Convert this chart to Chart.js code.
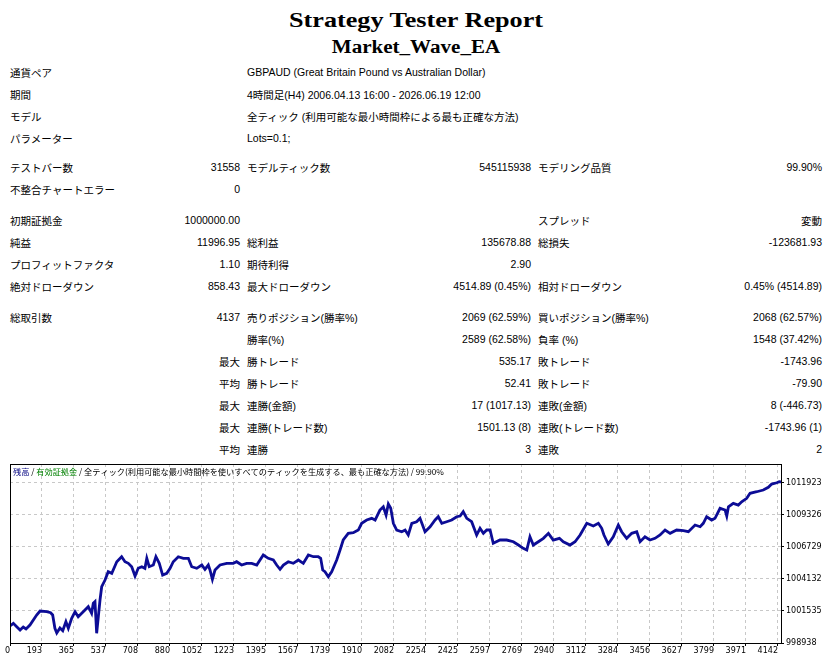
<!DOCTYPE html>
<html lang="ja">
<head>
<meta charset="utf-8">
<title>Strategy Tester Report</title>
<script src="https://cdn.jsdelivr.net/npm/chart.js@4.4.1/dist/chart.umd.min.js"></script>
<style>
    html, body { margin: 0; padding: 0; background: #ffffff; }
    body {
        width: 832px; height: 664px; position: relative; overflow: hidden;
        font-family: "Liberation Sans", "Noto Sans CJK JP", sans-serif;
        font-size: 10.5px; color: #000000;
    }
    .title {
        position: absolute; left: 0; width: 832px; text-align: center;
        font-family: "Liberation Serif", serif; font-weight: bold; white-space: nowrap;
    }
    #t1 { top: 9px; font-size: 22px; line-height: 22px; transform: scaleX(1.19); }
    #t2 { top: 38px; font-size: 18px; line-height: 18px; transform: scaleX(1.17); }
    table { position: absolute; left: 10px; top: 61px; border-collapse: collapse; table-layout: fixed; }
    td { padding: 0; height: 22px; white-space: nowrap; overflow: visible; vertical-align: middle; }
    td.r { text-align: right; }
    td.p { text-indent: 7px; }
    tr.s7 td { height: 7px; font-size: 0; line-height: 0; }
    tr.s9 td { height: 9px; font-size: 0; line-height: 0; }
    #chartBox { position: absolute; left: 0; top: 456px; width: 832px; height: 208px; }
</style>
</head>
<body>
<div class="title" id="t1">Strategy Tester Report</div>
<div class="title" id="t2">Market_Wave_EA</div>

<table>
    <colgroup>
        <col style="width:140px"><col style="width:90px"><col style="width:150px">
        <col style="width:141px"><col style="width:150px"><col style="width:141px">
    </colgroup>
    <tr><td>通貨ペア</td><td></td><td class="p" colspan="4">GBPAUD (Great Britain Pound vs Australian Dollar)</td></tr>
    <tr><td>期間</td><td></td><td class="p" colspan="4">4時間足(H4) 2006.04.13 16:00 - 2026.06.19 12:00</td></tr>
    <tr><td>モデル</td><td></td><td class="p" colspan="4">全ティック (利用可能な最小時間枠による最も正確な方法)</td></tr>
    <tr><td>パラメーター</td><td></td><td class="p" colspan="4">Lots=0.1;</td></tr>
    <tr class="s7"><td colspan="6"></td></tr>
    <tr><td>テストバー数</td><td class="r">31558</td><td class="p">モデルティック数</td><td class="r">545115938</td><td class="p">モデリング品質</td><td class="r">99.90%</td></tr>
    <tr><td>不整合チャートエラー</td><td class="r">0</td><td></td><td></td><td></td><td></td></tr>
    <tr class="s9"><td colspan="6"></td></tr>
    <tr><td>初期証拠金</td><td class="r">1000000.00</td><td></td><td></td><td class="p">スプレッド</td><td class="r">変動</td></tr>
    <tr><td>純益</td><td class="r">11996.95</td><td class="p">総利益</td><td class="r">135678.88</td><td class="p">総損失</td><td class="r">-123681.93</td></tr>
    <tr><td>プロフィットファクタ</td><td class="r">1.10</td><td class="p">期待利得</td><td class="r">2.90</td><td></td><td></td></tr>
    <tr><td>絶対ドローダウン</td><td class="r">858.43</td><td class="p">最大ドローダウン</td><td class="r">4514.89 (0.45%)</td><td class="p">相対ドローダウン</td><td class="r">0.45% (4514.89)</td></tr>
    <tr class="s9"><td colspan="6"></td></tr>
    <tr><td>総取引数</td><td class="r">4137</td><td class="p">売りポジション(勝率%)</td><td class="r">2069 (62.59%)</td><td class="p">買いポジション(勝率%)</td><td class="r">2068 (62.57%)</td></tr>
    <tr><td></td><td></td><td class="p">勝率(%)</td><td class="r">2589 (62.58%)</td><td class="p">負率 (%)</td><td class="r">1548 (37.42%)</td></tr>
    <tr><td></td><td class="r">最大</td><td class="p">勝トレード</td><td class="r">535.17</td><td class="p">敗トレード</td><td class="r">-1743.96</td></tr>
    <tr><td></td><td class="r">平均</td><td class="p">勝トレード</td><td class="r">52.41</td><td class="p">敗トレード</td><td class="r">-79.90</td></tr>
    <tr><td></td><td class="r">最大</td><td class="p">連勝(金額)</td><td class="r">17 (1017.13)</td><td class="p">連敗(金額)</td><td class="r">8 (-446.73)</td></tr>
    <tr><td></td><td class="r">最大</td><td class="p">連勝(トレード数)</td><td class="r">1501.13 (8)</td><td class="p">連敗(トレード数)</td><td class="r">-1743.96 (1)</td></tr>
    <tr><td></td><td class="r">平均</td><td class="p">連勝</td><td class="r">3</td><td class="p">連敗</td><td class="r">2</td></tr>
</table>

<div id="chartBox"><canvas id="balanceChart"></canvas></div>

<script>
// ================= data =================
var tradeNo = [
    0, 18, 36, 54, 71, 86, 107, 143, 161, 197,
    218, 229, 241, 251, 268, 283, 300, 313, 331, 349,
    366, 393, 420, 438, 447, 456, 465, 474, 483, 492,
    510, 527, 546, 573, 599, 617, 635, 653, 671, 688,
    707, 724, 734, 747, 769, 783, 801, 819, 841, 859,
    876, 903, 930, 957, 975, 1002, 1029, 1046, 1064, 1073,
    1086, 1100, 1127, 1163, 1198, 1216, 1243, 1270, 1297, 1324,
    1359, 1386, 1413, 1431, 1449, 1467, 1493, 1520, 1547, 1574,
    1601, 1628, 1654, 1667, 1678, 1690, 1708, 1726, 1753, 1771,
    1788, 1815, 1842, 1869, 1887, 1914, 1941, 1959, 1985, 2003,
    2018, 2030, 2043, 2057, 2075, 2102, 2120, 2137, 2156, 2182,
    2200, 2227, 2254, 2281, 2298, 2317, 2343, 2370, 2397, 2415,
    2432, 2451, 2477, 2504, 2522, 2540, 2558, 2576, 2593, 2629,
    2665, 2701, 2728, 2754, 2773, 2790, 2808, 2835, 2862, 2889,
    2915, 2948, 2969, 3005, 3032, 3059, 3095, 3130, 3157, 3175,
    3187, 3210, 3237, 3264, 3282, 3309, 3336, 3363, 3381, 3407,
    3434, 3461, 3488, 3515, 3542, 3577, 3613, 3640, 3676, 3703,
    3720, 3738, 3765, 3783, 3810, 3837, 3846, 3855, 3881, 3908,
    3926, 3953, 3971, 4007, 4042, 4069, 4087, 4114, 4128, 4137
];

var balance = [
    1000315, 1000534, 1000258, 999991, 1000234, 1000072, 1000396, 1001206, 1001530, 1001473,
    1001392, 1001206, 1000129, 999748, 1000153, 999934, 1000663, 1000129, 1000939, 1001473,
    1001068, 1001473, 1001878, 1001344, 1002154, 1002283, 999724, 1001068, 1002421, 1003498,
    1004041, 1004713, 1004584, 1005523, 1005928, 1005523, 1005394, 1005118, 1004365, 1004989,
    1005118, 1004989, 1005799, 1005118, 1005256, 1005928, 1005394, 1004446, 1004584, 1004989,
    1005523, 1005928, 1005799, 1005799, 1005118, 1004989, 1005256, 1004908, 1005256, 1004851,
    1004098, 1004851, 1005256, 1005394, 1005394, 1005523, 1005256, 1005394, 1005394, 1005256,
    1006066, 1005799, 1005661, 1005256, 1004908, 1005256, 1005523, 1005394, 1005661, 1005394,
    1006066, 1005928, 1005928, 1005799, 1004851, 1004713, 1004308, 1004713, 1005661, 1006471,
    1007281, 1007824, 1007872, 1008091, 1008634, 1008901, 1009039, 1008901, 1009711, 1009978,
    1009306, 1010197, 1009849, 1008634, 1008091, 1007953, 1008091, 1007686, 1008634, 1008763,
    1009039, 1007953, 1008358, 1008901, 1009168, 1008634, 1008763, 1008901, 1009168, 1009225,
    1009573, 1009039, 1008763, 1007686, 1008229, 1007824, 1008091, 1008091, 1007014, 1007281,
    1007281, 1007143, 1006876, 1006609, 1006471, 1007548, 1006876, 1007143, 1007419, 1007824,
    1007281, 1007419, 1007143, 1006876, 1007143, 1007686, 1008634, 1008415, 1008634, 1008229,
    1007686, 1006957, 1007548, 1008496, 1007953, 1007419, 1007824, 1007953, 1007143, 1007548,
    1007281, 1007419, 1007686, 1008091, 1007824, 1008091, 1008034, 1007953, 1008496, 1008358,
    1008634, 1009168, 1008901, 1009039, 1009849, 1009711, 1009225, 1009978, 1010254, 1010116,
    1010383, 1010659, 1011064, 1011193, 1011331, 1011550, 1011817, 1011922, 1012003, 1011997
];

var totalTrades = 4137;
var xTickStep = 171.7;
var xTickLabels = ['0', '193', '365', '537', '708', '880', '1052', '1223', '1395', '1567', '1739', '1910',
    '2082', '2254', '2425', '2597', '2769', '2940', '3112', '3284', '3456', '3627', '3799', '3971', '4142'];
var yTickValues = [998938, 1001535, 1004132, 1006729, 1009326, 1011923];
var yMin = 998938;
var yMax = 1013440;

var headerParts = ['残高', ' / ', '有効証拠金', ' / 全ティック(利用可能な最小時間枠を使いすべてのティックを生成する、最も正確な方法) / 99.90%'];
var headerColors = ['#000080', '#000000', '#008000', '#000000'];

function drawBalanceChart() {

    var points = [];
    for (var i = 0; i < tradeNo.length; i++) {
        points.push({ x: tradeNo[i], y: balance[i] });
    }

    // frame round the plot area + the coloured caption line
    var framePlugin = {
        id: 'frame',
        afterDraw: function (chart) {
            var ctx = chart.ctx,
                a = chart.chartArea;
            ctx.save();
            ctx.strokeStyle = '#000000';
            ctx.lineWidth = 1;
            ctx.strokeRect(Math.round(a.left) + 0.5, Math.round(a.top) + 0.5,
                Math.round(a.right - a.left), Math.round(a.bottom - a.top));

            ctx.font = '8.2px "Noto Sans CJK JP"';
            ctx.textBaseline = 'middle';
            var x = a.left + 3;
            for (var k = 0; k < headerParts.length; k++) {
                ctx.fillStyle = headerColors[k];
                ctx.fillText(headerParts[k], x, a.top + 8);
                x += ctx.measureText(headerParts[k]).width;
            }
            ctx.restore();
        }
    };

    var tickFont = { family: 'DejaVu Sans', size: 8 };

    new Chart(document.getElementById('balanceChart').getContext('2d'), {
        type: 'line',
        data: {
            datasets: [{
                label: '残高',
                data: points,
                borderColor: '#0c0c96',
                borderWidth: 2.8,
                pointRadius: 0,
                tension: 0,
                fill: false
            }]
        },
        options: {
            responsive: true,
            maintainAspectRatio: false,
            animation: false,
            layout: { padding: { left: 10, top: 8, right: 0, bottom: 0 } },
            plugins: {
                legend: { display: false },
                tooltip: { enabled: false }
            },
            scales: {
                x: {
                    type: 'linear',
                    min: 0,
                    max: totalTrades,
                    afterBuildTicks: function (axis) {
                        axis.ticks = xTickLabels.map(function (l, i) { return { value: i * xTickStep }; });
                    },
                    afterFit: function (axis) { axis.height = 21; },
                    ticks: {
                        autoSkip: false,
                        maxRotation: 0,
                        align: 'end',
                        padding: 0,
                        color: '#000000',
                        font: tickFont,
                        callback: function (v, i) { return xTickLabels[i]; }
                    },
                    grid: { color: '#c8c8c8', tickColor: '#000000', tickLength: 3 },
                    border: { display: true, color: '#000000', width: 1, dash: [3, 3] }
                },
                y: {
                    position: 'right',
                    min: yMin,
                    max: yMax,
                    afterBuildTicks: function (axis) {
                        axis.ticks = yTickValues.map(function (v) { return { value: v }; });
                    },
                    afterFit: function (axis) { axis.width = 51; },
                    ticks: {
                        padding: 2,
                        color: '#000000',
                        font: tickFont,
                        callback: function (v) { return String(v); }
                    },
                    grid: { color: '#c8c8c8', tickColor: '#000000', tickLength: 3 },
                    border: { display: true, color: '#000000', width: 1, dash: [3, 3] }
                }
            }
        },
        plugins: [framePlugin]
    });
}

drawBalanceChart();
</script>
</body>
</html>
